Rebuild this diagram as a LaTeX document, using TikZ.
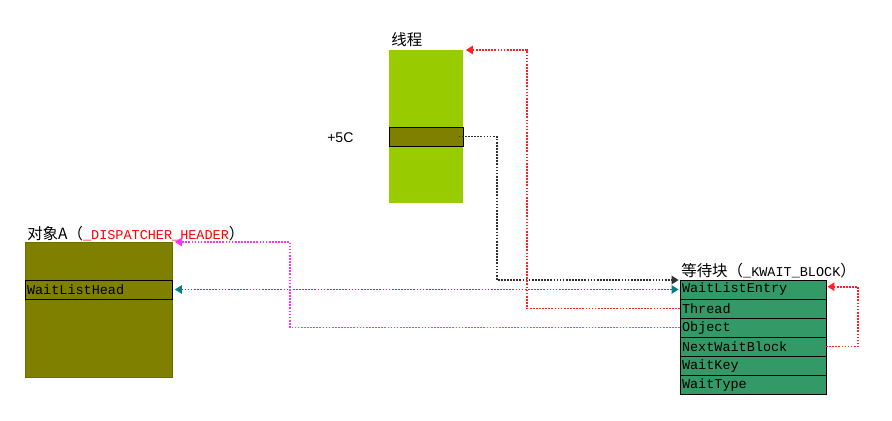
\documentclass[tikz,border=0pt]{standalone}
\usepackage{fontspec}
\setmainfont{Liberation Sans}
\setmonofont{Liberation Mono}
\newfontfamily\cjk{Noto Sans CJK SC}
\usepackage{xcolor}
\usetikzlibrary{arrows.meta,positioning}
\definecolor{threadgreen}{HTML}{99CC00}
\definecolor{objolive}{HTML}{808000}
\definecolor{waitgreen}{HTML}{339966}
\definecolor{linkteal}{HTML}{008080}
\definecolor{linkmagenta}{HTML}{FF33FF}
\definecolor{linkred}{HTML}{FF2222}
\definecolor{linkgray}{HTML}{303030}
\newcommand{\monotext}[1]{{\fontsize{9.6}{11}\selectfont\ttfamily #1}}

\begin{document}
\begin{tikzpicture}[
  x=0.025cm, y=-0.025cm,
  font=\fontsize{9.6}{11}\selectfont,
  field/.style={draw, fill=objolive, outer sep=0pt, inner xsep=0.05cm, inner ysep=0pt,
    minimum height=0.475cm, align=left, font=\fontsize{9.6}{11}\selectfont\ttfamily, anchor=north west},
  wfield/.style={field, fill=waitgreen, text width=3.55cm},
  title/.style={anchor=base west, inner sep=0pt, font=\fontsize{11}{13}\selectfont\cjk},
  link/.style={dash pattern=on 1.2pt off 1pt, line width=1.2pt},
  tip/.style={-{Triangle[length=5pt,width=6pt]}}
]
\useasboundingbox (0,0) rectangle (892,420);

% thread
\node[fill=threadgreen, inner sep=0pt, outer sep=0pt, anchor=north west,
      minimum width=1.85cm, minimum height=3.825cm] (thread) at (389,50) {};
\node[field, minimum width=1.85cm] (off) at (389,127) {};
\node[title] (tthread) at (391,46) {线程};
\node[anchor=base west, inner sep=0pt, font=\fontsize{10}{12}\selectfont] (plus) at (327,142) {+5C};

% object A
\node[draw=objolive!85!black, fill=objolive, inner sep=0pt, outer sep=0pt, anchor=north west,
      minimum width=3.675cm, minimum height=3.375cm] (objA) at (25,242) {};
\node[field, text width=3.575cm] (head) at (25,280) {WaitListHead};
\node[title] (tobj) at (27,239) {对象A（\textcolor{red}{\monotext{\_DISPATCHER\_HEADER}}）};

% wait block
\node[wfield] (w1) at (680,280) {WaitListEntry};
\node[wfield, below=0pt of w1] (w2) {Thread};
\node[wfield, below=0pt of w2] (w3) {Object};
\node[wfield, below=0pt of w3] (w4) {NextWaitBlock};
\node[wfield, below=0pt of w4] (w5) {WaitKey};
\node[wfield, below=0pt of w5] (w6) {WaitType};
\node[title] (twait) at (681,276) {等待块（\monotext{\_KWAIT\_BLOCK}）};

% links
\draw[link, linkgray, tip] ([xshift=-3pt]off.east) -- ++(38,0) |- ([xshift=-1pt]w1.north west);
\draw[link, linkteal, {Triangle[length=5pt,width=6pt]}-{Triangle[length=5pt,width=6pt]},
      shorten <=2pt, shorten >=1pt] (head.east) -- (w1.west);
\draw[link, linkred, tip, shorten >=2pt] (w2.west) -- ++(-153,0) |- (thread.north east);
\draw[link, linkmagenta, tip, shorten >=2pt] (w3.west) -- ++(-390,0) |- (objA.north east);
\draw[link, linkred, tip, shorten >=1pt] (w4.east) -- ++(32,0) |- ([yshift=2pt]w1.east);
\end{tikzpicture}
\end{document}
